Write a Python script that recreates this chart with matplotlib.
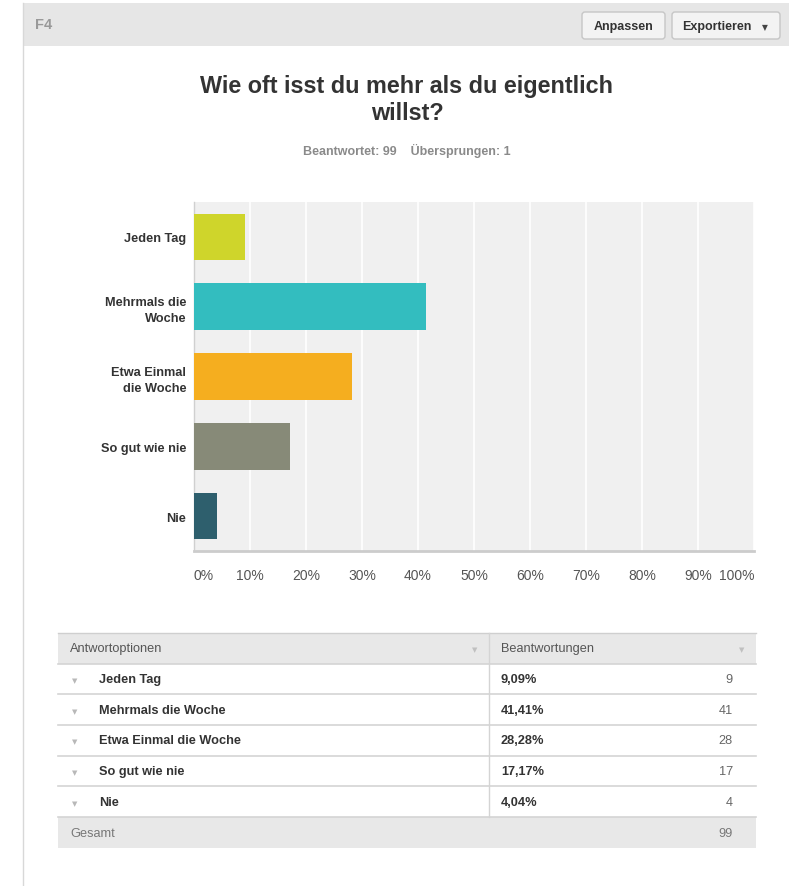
import matplotlib.pyplot as plt
from matplotlib.patches import Rectangle, FancyBboxPatch

# Umfrage F4
categories = ["Jeden Tag", "Mehrmals die Woche", "Etwa Einmal die Woche", "So gut wie nie", "Nie"]
axis_labels = ["Jeden Tag", "Mehrmals die\nWoche", "Etwa Einmal\ndie Woche", "So gut wie nie", "Nie"]
percent = [9.09, 41.41, 28.28, 17.17, 4.04]
counts = [9, 41, 28, 17, 4]
answered = 99
skipped = 1
bar_colors = ["#cfd52b", "#33bdbf", "#f5ae1f", "#878a78", "#2e5f6d"]
tick_values = [0, 10, 20, 30, 40, 50, 60, 70, 80, 90, 100]

W, H = 789, 887
plt.rcParams["font.family"] = ["Liberation Sans", "DejaVu Sans"]

fig = plt.figure(figsize=(W / 100, H / 100), dpi=100)
fig.patch.set_facecolor("white")

# Hintergrund-Achse in Pixelkoordinaten (Ursprung oben links)
bg = fig.add_axes([0, 0, 1, 1])
bg.set_xlim(0, W)
bg.set_ylim(H, 0)
bg.axis("off")

# Panel-Kopf
bg.add_patch(Rectangle((23, 4), W - 23, 43, facecolor="#e6e6e6", edgecolor="none"))
bg.plot([23, 23], [4, H], color="#d8d8d8", lw=1)
bg.text(35, 25, "F4", fontsize=10.5, fontweight="bold", color="#999999", va="center")


def button(x0, x1, label, arrow=False):
    bg.add_patch(FancyBboxPatch((x0, 13), x1 - x0, 27, boxstyle="round,pad=0,rounding_size=3",
                                facecolor="#f3f3f3", edgecolor="#c6c6c6", lw=1))
    if arrow:
        bg.text(x0 + 10, 27, label, fontsize=9, fontweight="bold", color="#333333", va="center")
        bg.text(x1 - 15, 28, "\u25BC", fontsize=5.5, color="#444444", va="center", ha="center",
                family="DejaVu Sans")
    else:
        bg.text((x0 + x1) / 2, 27, label, fontsize=9, fontweight="bold", color="#333333",
                va="center", ha="center")


button(582, 665, "Anpassen")
button(672, 780, "Exportieren", arrow=True)

# Titel
bg.text(407, 100, "Wie oft isst du mehr als du eigentlich\nwillst?", fontsize=16.8, fontweight="bold",
        color="#333333", ha="center", va="center", linespacing=1.2)
bg.text(407, 151, f"Beantwortet: {answered}    Übersprungen: {skipped}", fontsize=9,
        fontweight="bold", color="#8a8a8a", ha="center", va="center")

# Balkendiagramm
x0, x1, y0, y1 = 194, 754, 203, 552
ax = fig.add_axes([x0 / W, 1 - y1 / H, (x1 - x0) / W, (y1 - y0) / H])
ax.set_facecolor("#f0f0f0")
ypos = list(range(len(categories)))
ax.barh(ypos, percent, height=0.67, color=bar_colors, zorder=3)
ax.set_xlim(0, 100)
ax.set_ylim(len(categories) - 0.5, -0.5)
ax.set_xticks(tick_values)
ax.set_xticklabels([f"{v}%" for v in tick_values])
ax.set_yticks(ypos)
ax.set_yticklabels(axis_labels, fontsize=9.2, fontweight="bold", color="#333333", linespacing=1.45)
ax.tick_params(axis="y", length=0, pad=5.5)
ax.tick_params(axis="x", length=0, pad=12.5, labelsize=10, labelcolor="#555555")
for lbl in ax.get_xticklabels():
    lbl.set_ha("center")
ax.get_xticklabels()[0].set_ha("left")
ax.get_xticklabels()[-1].set_ha("right")
ax.grid(axis="x", color="white", lw=1.2, zorder=1)
for side in ["top", "right"]:
    ax.spines[side].set_visible(False)
ax.spines["left"].set_color("#d0d0d0")
ax.spines["left"].set_linewidth(1)
ax.spines["bottom"].set_color("#cccccc")
ax.spines["bottom"].set_linewidth(2)

# Tabelle
tl, tr, tdiv = 58, 756, 489
row_h = 30.7
top = 634
n = len(categories)
bg.add_patch(Rectangle((tl, top), tr - tl, row_h, facecolor="#e8e8e8", edgecolor="none"))
bg.add_patch(Rectangle((tl, top + (n + 1) * row_h), tr - tl, row_h, facecolor="#e8e8e8", edgecolor="none"))
bg.plot([tl, tr], [top, top], color="#cfcfcf", lw=1)
for i in range(1, n + 2):
    yy = top + i * row_h
    bg.plot([tl, tr], [yy, yy], color="#d4d4d4", lw=1.2)
bg.plot([tdiv, tdiv], [top, top + (n + 1) * row_h], color="#d4d4d4", lw=1)

hy = top + row_h / 2
bg.text(70, hy, "Antwortoptionen", fontsize=9.2, color="#555555", va="center")
bg.text(501, hy, "Beantwortungen", fontsize=9.2, color="#555555", va="center")
for tx in (475, 742):
    bg.text(tx, hy + 1, "\u25BC", fontsize=5, color="#c0c0c0", ha="center", va="center",
            family="DejaVu Sans")

for i, (cat, p, c) in enumerate(zip(categories, percent, counts)):
    yy = top + (i + 1) * row_h + row_h / 2
    bg.text(75, yy + 1, "\u25BC", fontsize=5, color="#b8b8b8", ha="center", va="center",
            family="DejaVu Sans")
    bg.text(99, yy, cat, fontsize=9.2, fontweight="bold", color="#333333", va="center")
    bg.text(501, yy, f"{p:.2f}%".replace(".", ","), fontsize=9.2, fontweight="bold",
            color="#333333", va="center")
    bg.text(733, yy, str(c), fontsize=9.2, color="#666666", va="center", ha="right")

gy = top + (n + 1) * row_h + row_h / 2
bg.text(70, gy, "Gesamt", fontsize=9.2, color="#777777", va="center")
bg.text(733, gy, str(sum(counts)), fontsize=9.2, color="#777777", va="center", ha="right")

fig.savefig("out.png", dpi=100)
